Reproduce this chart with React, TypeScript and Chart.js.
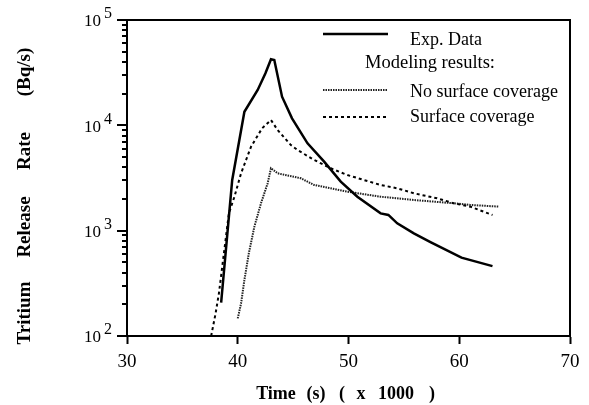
import React, { useEffect, useRef } from "react";
import { Chart, registerables } from "chart.js";

Chart.register(...registerables);

// Time in units of 1000 s, release rate in Bq/s
const expTime = [38.5, 39.5, 40.6, 41.8, 42.5, 43.0, 43.3, 44.0, 44.9, 46.3, 47.8, 49.3, 50.8, 52.9, 53.6, 54.4, 55.9, 57.4, 60.2, 63.0];
const expRate = [207, 3030, 13460, 21650, 31190, 42360, 41700, 18700, 11660, 6750, 4520, 2920, 2100, 1460, 1410, 1175, 944, 780, 554, 461];

const noCovTime = [40.0, 40.3, 40.6, 41.0, 41.5, 42.1, 42.7, 43.0, 43.6, 45.7, 46.9, 49.9, 52.9, 55.9, 59.5, 61.0, 63.6];
const noCovRate = [147, 204, 340, 610, 1090, 1820, 2820, 3910, 3505, 3140, 2715, 2345, 2100, 1955, 1820, 1755, 1690];

const covTime = [37.6, 38.0, 38.3, 38.6, 38.9, 39.2, 39.7, 40.3, 41.2, 42.2, 43.0, 43.6, 44.8, 45.4, 46.9, 48.4, 49.9, 51.4, 52.9, 54.4, 55.9, 58.0, 59.5, 61.0, 63.0];
const covRate = [100, 164, 254, 455, 815, 1462, 2100, 3505, 6270, 9370, 11240, 9030, 6500, 5830, 4690, 3910, 3375, 3025, 2715, 2525, 2264, 2030, 1820, 1690, 1409];

const xTicks = [30, 40, 50, 60, 70];
const yDecades = [2, 3, 4, 5];

const seriesNames = ["Exp. Data", "No surface coverage", "Surface coverage"];
const legendHeading = "Modeling results:";
const yTitleWords = ["Tritium", "Release", "Rate", "(Bq/s)"];
const xTitleWords = ["Time", "(s)", "(", "x", "1000", ")"];

const SERIF = '"Liberation Serif", "Times New Roman", serif';

const toPoints = (xs: number[], ys: number[]) => xs.map((x, i) => ({ x, y: ys[i] }));

const paperPlugin = {
  id: "paper",
  afterDraw(chart: any) {
    const { ctx, chartArea: a, scales } = chart;
    const ys = scales.y;
    ctx.save();
    ctx.fillStyle = "#000";
    // top and right frame
    ctx.fillRect(a.left, a.top - 1, a.right - a.left, 2);
    ctx.fillRect(a.right - 1, a.top - 1, 2, a.bottom - a.top + 2);

    // y ticks (major and minor, outward)
    for (let d = 2; d <= 4; d++) {
      for (let m = 1; m <= 9; m++) {
        const py = Math.round(ys.getPixelForValue(m * Math.pow(10, d)));
        const len = m === 1 ? 10 : 5;
        ctx.fillRect(a.left - len, py - 1, len, 2);
      }
    }
    {
      const py = Math.round(ys.getPixelForValue(1e5));
      ctx.fillRect(a.left - 10, py - 1, 10, 2);
    }

    // y labels 10^n
    yDecades.forEach((d) => {
      const py = ys.getPixelForValue(Math.pow(10, d));
      ctx.font = `17px ${SERIF}`;
      ctx.textAlign = "right";
      ctx.textBaseline = "middle";
      ctx.fillText("10", 101, py + 2);
      ctx.font = `16px ${SERIF}`;
      ctx.textAlign = "left";
      ctx.fillText(String(d), 104, py - 6);
    });

    // y title (rotated, spaced words)
    const yCenters = [313, 227, 151, 72];
    yTitleWords.forEach((w, i) => {
      ctx.save();
      ctx.font = `bold 19px ${SERIF}`;
      ctx.textAlign = "center";
      ctx.textBaseline = "alphabetic";
      ctx.translate(30, yCenters[i]);
      ctx.rotate(-Math.PI / 2);
      ctx.fillText(w, 0, 0);
      ctx.restore();
    });

    // x title
    const xCenters = [276, 316, 342, 361, 396, 432];
    ctx.font = `bold 18px ${SERIF}`;
    ctx.textAlign = "center";
    ctx.textBaseline = "alphabetic";
    xTitleWords.forEach((w, i) => ctx.fillText(w, xCenters[i], 399));

    // legend
    ctx.font = `18px ${SERIF}`;
    ctx.textAlign = "left";
    ctx.textBaseline = "alphabetic";
    const ds = chart.data.datasets;
    const rows = [
      { line: 34, text: 45, i: 0 },
      { line: 90, text: 97, i: 1 },
      { line: 117, text: 122, i: 2 },
    ];
    rows.forEach((r) => {
      const d = ds[r.i];
      ctx.save();
      ctx.strokeStyle = d.borderColor;
      ctx.lineWidth = d.borderWidth;
      ctx.setLineDash(d.borderDash || []);
      ctx.beginPath();
      ctx.moveTo(323, r.line);
      ctx.lineTo(388, r.line);
      ctx.stroke();
      ctx.restore();
      ctx.fillText(seriesNames[r.i], 410, r.text);
    });
    ctx.font = `18.5px ${SERIF}`;
    ctx.fillText(legendHeading, 365, 68);
    ctx.restore();
  },
};

export default function App() {
  const ref = useRef<HTMLCanvasElement | null>(null);
  useEffect(() => {
    if (!ref.current) return;
    const chart = new Chart(ref.current, {
      type: "line",
      data: {
        datasets: [
          {
            label: seriesNames[0],
            data: toPoints(expTime, expRate),
            borderColor: "#000",
            borderWidth: 2.5,
            pointRadius: 0,
            tension: 0,
            order: 0,
          },
          {
            label: seriesNames[1],
            data: toPoints(noCovTime, noCovRate),
            borderColor: "#222",
            borderWidth: 2,
            borderDash: [1.5, 1],
            pointRadius: 0,
            tension: 0,
            order: 2,
          },
          {
            label: seriesNames[2],
            data: toPoints(covTime, covRate),
            borderColor: "#000",
            borderWidth: 2,
            borderDash: [3, 3],
            pointRadius: 0,
            tension: 0,
            order: 1,
          },
        ],
      },
      options: {
        responsive: false,
        animation: false,
        devicePixelRatio: 1,
        layout: { padding: { left: 0, right: 19, top: 20, bottom: 0 } },
        plugins: { legend: { display: false }, tooltip: { enabled: false } },
        scales: {
          x: {
            type: "linear",
            min: 30,
            max: 70,
            afterFit: (s: any) => {
              s.height = 69;
            },
            afterBuildTicks: (s: any) => {
              s.ticks = xTicks.map((v) => ({ value: v }));
            },
            ticks: {
              color: "#000",
              font: { family: SERIF, size: 19 },
              padding: 7,
              maxRotation: 0,
            },
            grid: {
              display: true,
              drawOnChartArea: false,
              drawTicks: true,
              tickLength: 8,
              tickColor: "#000",
              tickWidth: 2,
            },
            border: { display: true, color: "#000", width: 2 },
          },
          y: {
            type: "logarithmic",
            min: 100,
            max: 100000,
            afterFit: (s: any) => {
              s.width = 127;
            },
            ticks: { display: false },
            grid: { display: false },
            border: { display: true, color: "#000", width: 2 },
          },
        },
      },
      plugins: [paperPlugin],
    });
    return () => chart.destroy();
  }, []);
  return (
    <div style={{ position: "fixed", left: 0, top: 0, width: 589, height: 405, background: "#fff" }}>
      <canvas ref={ref} width={589} height={405} style={{ width: 589, height: 405, display: "block" }} />
    </div>
  );
}
